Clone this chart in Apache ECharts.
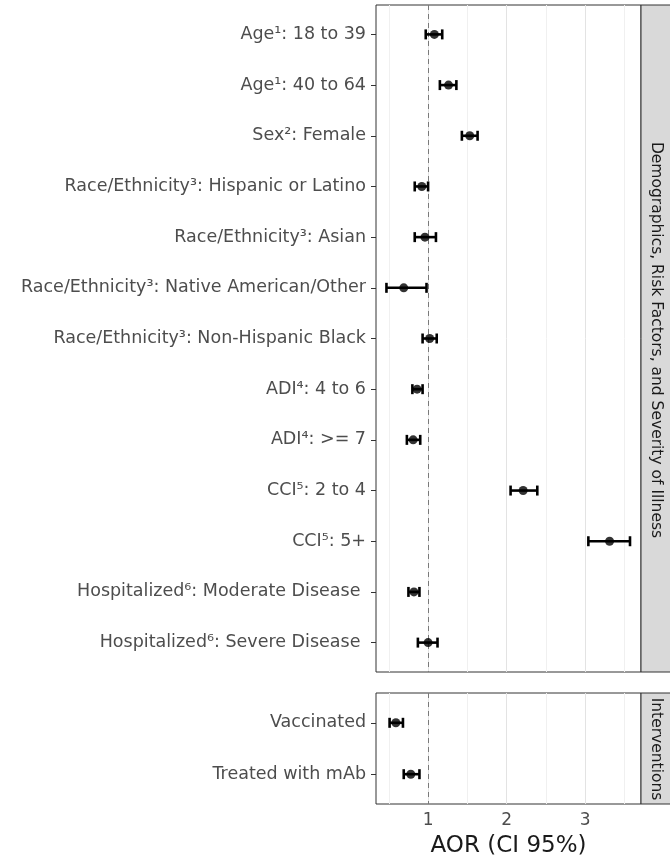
<!DOCTYPE html>
<html>
<head>
<meta charset="utf-8">
<script src="https://cdn.jsdelivr.net/npm/echarts@6/dist/echarts.min.js"></script>
<style>
  html, body { margin: 0; padding: 0; background: #fff; }
  #chart { width: 670px; height: 861px; }
</style>
</head>
<body>
<div id="chart"></div>
<script>
// Demographics, Risk Factors, and Severity of Illness
var labelsTop = [
  "Age¹: 18 to 39",
  "Age¹: 40 to 64",
  "Sex²: Female",
  "Race/Ethnicity³: Hispanic or Latino",
  "Race/Ethnicity³: Asian",
  "Race/Ethnicity³: Native American/Other",
  "Race/Ethnicity³: Non-Hispanic Black",
  "ADI⁴: 4 to 6",
  "ADI⁴: >= 7",
  "CCI⁵: 2 to 4",
  "CCI⁵: 5+",
  "Hospitalized⁶: Moderate Disease ",
  "Hospitalized⁶: Severe Disease "
];
var aorTop = [1.08, 1.26, 1.53, 0.92, 0.96, 0.69, 1.02, 0.86, 0.81, 2.21, 3.31, 0.82, 1.00];
var loTop  = [0.97, 1.15, 1.43, 0.83, 0.83, 0.47, 0.93, 0.80, 0.73, 2.05, 3.04, 0.75, 0.87];
var hiTop  = [1.18, 1.36, 1.63, 1.00, 1.10, 0.98, 1.11, 0.93, 0.90, 2.39, 3.57, 0.89, 1.12];

// Interventions
var labelsBottom = ["Vaccinated", "Treated with mAb"];
var aorBottom = [0.59, 0.78];
var loBottom  = [0.51, 0.69];
var hiBottom  = [0.68, 0.89];

var xTicks = [1, 2, 3];
var majorGrid = [1, 2, 3];
var minorGrid = [0.5, 1.5, 2.5, 3.5];
var refLine = 1;
var xMin = 0.337, xMax = 3.71;

var stripTop = "Demographics, Risk Factors, and Severity of Illness";
var stripBottom = "Interventions";

var font = '"DejaVu Sans", "Liberation Sans", Arial, sans-serif';

function idx(arr) {
  return arr.map(function (_, i) { return i; });
}

function renderErr(params, api) {
  var a = api.coord([api.value(0), api.value(2)]);
  var b = api.coord([api.value(1), api.value(2)]);
  var h = 5;
  var st = { stroke: "#000", lineWidth: 2.6 };
  return {
    type: "group",
    children: [
      { type: "line", shape: { x1: a[0], y1: a[1], x2: b[0], y2: b[1] }, style: st },
      { type: "line", shape: { x1: a[0], y1: a[1] - h, x2: a[0], y2: a[1] + h }, style: st },
      { type: "line", shape: { x1: b[0], y1: b[1] - h, x2: b[0], y2: b[1] + h }, style: st }
    ]
  };
}

function gridMarks(values, color, type) {
  return values.map(function (v) {
    return { xAxis: v, lineStyle: { color: color, width: 1, type: type || "solid" } };
  });
}

function panelSeries(gi, aor, lo, hi) {
  var pts = aor.map(function (v, i) { return [v, i]; });
  return [
    {
      // invisible carrier for the panel grid lines and the reference line
      type: "scatter", xAxisIndex: gi, yAxisIndex: gi, z: 1, silent: true,
      symbolSize: 0, data: pts,
      markLine: {
        z: 1, silent: true, symbol: "none", animation: false,
        label: { show: false },
        emphasis: { disabled: true },
        data: gridMarks(minorGrid, "#f0f0f0")
          .concat(gridMarks(majorGrid, "#e3e3e3"))
          .concat(gridMarks([refLine], "#7a7a7a", [5, 4]))
      }
    },
    {
      type: "custom", xAxisIndex: gi, yAxisIndex: gi, z: 3,
      renderItem: renderErr,
      encode: { x: [0, 1], y: 2 },
      data: lo.map(function (v, i) { return [v, hi[i], i]; })
    },
    {
      type: "scatter", xAxisIndex: gi, yAxisIndex: gi, z: 4,
      symbol: "circle", symbolSize: 9,
      itemStyle: { color: "#000" },
      data: pts
    }
  ];
}

function yAxisFor(gi, labels) {
  return {
    type: "value", gridIndex: gi, inverse: true,
    min: -0.58, max: labels.length - 1 + 0.58,
    axisLine: { show: false },
    splitLine: { show: false },
    axisTick: { show: true, length: 5, customValues: idx(labels), lineStyle: { color: "#333" } },
    axisLabel: {
      customValues: idx(labels), margin: 10,
      color: "#4d4d4d", fontSize: 17.5, fontFamily: font,
      formatter: function (v) { return labels[Math.round(v)]; }
    }
  };
}

var chart = echarts.init(document.getElementById("chart"), null, { renderer: "canvas" });
chart.setOption({
  animation: false,
  backgroundColor: "#fff",
  grid: [
    { left: 376, right: 29, top: 5, height: 667, outerBoundsMode: "none", containLabel: false,
      show: true, borderColor: "#333", borderWidth: 1 },
    { left: 376, right: 29, top: 693, height: 111, outerBoundsMode: "none", containLabel: false,
      show: true, borderColor: "#333", borderWidth: 1 }
  ],
  xAxis: [
    {
      type: "value", gridIndex: 0, min: xMin, max: xMax,
      axisLine: { show: false }, axisTick: { show: false },
      axisLabel: { show: false }, splitLine: { show: false }
    },
    {
      type: "value", gridIndex: 1, min: xMin, max: xMax,
      axisLine: { show: false }, splitLine: { show: false },
      axisTick: { show: true, length: 5, customValues: xTicks, lineStyle: { color: "#333" } },
      axisLabel: { customValues: xTicks, margin: 8, color: "#4d4d4d", fontSize: 17, fontFamily: font },
      name: "AOR (CI 95%)", nameLocation: "middle", nameGap: 31,
      nameTextStyle: { color: "#1a1a1a", fontSize: 23, fontFamily: font }
    }
  ],
  yAxis: [yAxisFor(0, labelsTop), yAxisFor(1, labelsBottom)],
  series: panelSeries(0, aorTop, loTop, hiTop).concat(panelSeries(1, aorBottom, loBottom, hiBottom)),
  graphic: [
    { type: "rect", shape: { x: 641, y: 5, width: 40, height: 667 }, style: { fill: "#d9d9d9", stroke: "#333", lineWidth: 1 } },
    {
      type: "text", x: 656, y: 340, rotation: -Math.PI / 2,
      style: { text: stripTop, fill: "#1a1a1a", font: "15.5px " + font, align: "center", verticalAlign: "middle" }
    },
    { type: "rect", shape: { x: 641, y: 693, width: 40, height: 111 }, style: { fill: "#d9d9d9", stroke: "#333", lineWidth: 1 } },
    {
      type: "text", x: 656, y: 749, rotation: -Math.PI / 2,
      style: { text: stripBottom, fill: "#1a1a1a", font: "15.5px " + font, align: "center", verticalAlign: "middle" }
    }
  ]
});
</script>
</body>
</html>
